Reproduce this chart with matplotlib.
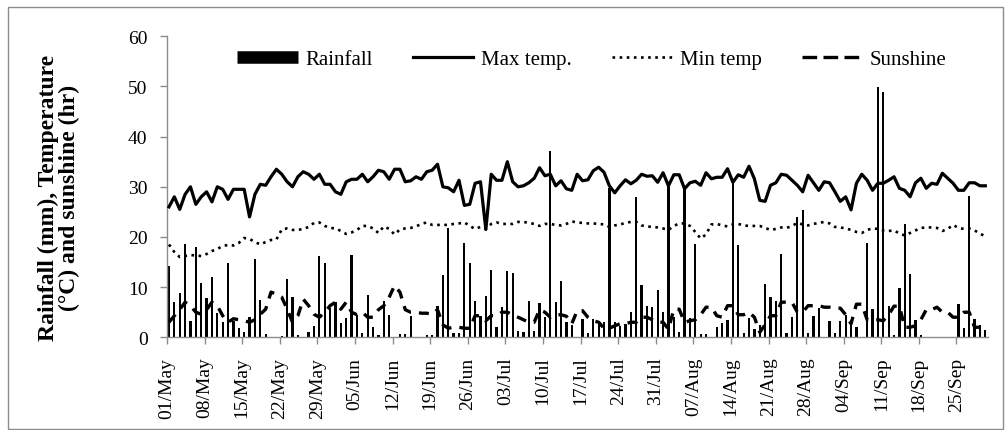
import numpy as np
import matplotlib
matplotlib.use("Agg")
import matplotlib.pyplot as plt
from matplotlib.lines import Line2D
from matplotlib.patches import Rectangle

# ---------------- data (daily, 01 May - 30 Sep) ----------------
max_temp = [26, 28, 25.5, 28.5, 30, 26.5, 28, 29, 27, 30, 29.5, 27.5, 29.5, 29.5, 29.5, 24,
            28.5, 30.5, 30.3, 32, 33.5, 32.5, 31, 30, 32, 33, 32.5, 31.5, 32.5, 30.5, 30.5, 29,
            28.5, 31, 31.5, 31.5, 32.5, 31, 32, 33.3, 33, 31.5, 33.5, 33.5, 31, 31.2, 32, 31.5,
            33, 33.3, 34.5, 30, 29.8, 29, 31.3, 26.3, 26.5, 30.7, 31, 21.5, 32.5, 31.3, 31.3, 35,
            31, 30, 30.2, 30.8, 31.7, 33.8, 32.2, 32.5, 30.2, 31.2, 29.6, 29.3, 32.5, 31.2, 31.4,
            33.2, 33.9, 32.9, 30.2, 28.8, 30.2, 31.4, 30.6, 31.3, 32.5, 32.1, 32.2, 30.9, 32.8,
            30.2, 32.4, 32.4, 29.6, 30.8, 31.1, 30.3, 32.8, 31.6, 31.9, 31.9, 33.6, 30.9, 32.4,
            31.9, 34.1, 31.6, 27.3, 27.1, 30.3, 30.8, 32.5, 32.3, 31.3, 30.3, 29, 32.3, 30.8,
            29.3, 31, 30.8, 29, 27.1, 28, 25.4, 30.7, 32.5, 31.3, 29.3, 30.7, 30.7, 31.3, 32,
            29.7, 29.3, 28, 30.8, 31.7, 29.7, 30.7, 30.5, 32.7, 31.7, 30.7, 29.3, 29.3, 30.8,
            30.8, 30.2, 30.2]

min_temp = [18.5, 17, 16, 16.2, 16.4, 16.3, 16.2, 16.6, 17.2, 17.6, 18.2, 18.4, 18.3, 18.8,
            19.8, 19.6, 19, 18.5, 19, 19.4, 19.5, 21.5, 21.7, 21.4, 21.4, 21.6, 22, 22.8, 22.9,
            22.2, 21.8, 21.7, 21.2, 20.6, 20.9, 21.4, 22.2, 22.2, 21.7, 20.8, 22.1, 21.6, 20.5,
            21.5, 21.7, 21.8, 22.1, 22.6, 22.9, 22.4, 22.4, 22.4, 22.4, 22.6, 22.7, 22.9, 22.2,
            21.6, 22, 21.6, 22.6, 22.9, 22.6, 22.6, 22.6, 23, 23, 22.8, 22.6, 22.2, 22.6, 22.6,
            22.4, 22.3, 22.6, 23.1, 22.9, 22.8, 22.7, 22.7, 22.6, 22.5, 22, 22.3, 22.5, 22.8, 23,
            23, 22.3, 22.1, 22, 21.9, 21.7, 21.4, 22.2, 22.7, 22.7, 22.2, 21, 19.7, 20.5, 22.5,
            22.6, 22.3, 22.1, 22.5, 22.6, 22.3, 22.2, 22.2, 22.2, 21.8, 21.4, 21.6, 21.9, 21.8,
            22.2, 22.8, 22.5, 22.3, 22.6, 22.8, 23, 22.7, 22, 21.9, 21.7, 21.4, 21, 20.8, 21.4,
            21.7, 21.6, 21.3, 21.2, 21.3, 20.7, 20.3, 20.8, 21.3, 21.8, 21.9, 21.9, 21.8, 21.2,
            21.6, 22.4, 21.8, 21.6, 21.7, 21.3, 20.7, 20.1]

rainfall = [14.3, 7.1, 8.9, 18.5, 3.3, 18, 10.9, 7.9, 12.1, 4.8, 3.1, 14.9, 3.2, 1.9, 1, 4.1,
            15.7, 7.4, 0.6, 0, 0, 0.3, 11.6, 8.1, 0.5, 0, 1, 2.3, 16.3, 14.9, 5.9, 7, 2.9, 3.8,
            16.5, 4.4, 0.9, 8.5, 2, 0.5, 7.3, 4.5, 0, 0.7, 0.7, 4.3, 0, 0, 0.5, 0.5, 6.3, 12.4,
            21.7, 0.9, 0.9, 18.8, 14.8, 7.3, 4.3, 8.3, 13.5, 2, 6, 13.3, 12.8, 1.3, 1, 7.2, 1.3,
            6.8, 4, 37.2, 7.1, 11.2, 3, 2.5, 0, 3.7, 0.8, 3.7, 3.3, 3, 29.8, 3, 2.3, 2.7, 5.1, 28,
            10.4, 6.3, 6, 9.5, 5, 30.5, 4, 1, 29.5, 3.8, 18.6, 0.6, 0.6, 0, 2, 2.8, 3.5, 31.5,
            18.3, 0.8, 3.8, 1.7, 2.5, 10.6, 8.1, 7.3, 16.6, 0.8, 4, 23.9, 25.4, 0.8, 4.3, 5.8, 0,
            3.3, 0.8, 3.3, 4.4, 3, 2, 0, 18.8, 5.6, 49.8, 48.8, 6.3, 0.5, 9.8, 22.6, 12.7, 3.5,
            0.5, 0, 0, 0, 0, 0, 0, 6.7, 1.8, 28.2, 3.7, 2.5, 1.5]

sunshine = [3, 4.3, 5.5, 7, 6.3, 5, 4.6, 5.5, 7, 6.3, 4.3, 3, 3.7, 3.5, 3.3, 3, 3.5, 4.6, 5.6,
            9, 8.6, 8, 5.6, 3, 4.3, 7.6, 6.3, 4.6, 4, 5, 6.3, 7, 5.6, 7, 5, 4.5, 5, 4, 4, 5.5,
            6.3, 8, 10.3, 9, 5.5, 5, 5, 4.8, 4.8, 4.6, 5.5, 2.5, 1.8, 2, 2, 1.8, 1.8, 4.3, 4.3,
            3.3, 4.3, 4.3, 5, 5, 4.5, 4, 3.5, 3, 3, 5.5, 5, 4, 4.5, 4.5, 4.2, 2.7, 5.3, 5.3, 4,
            3.3, 3, 1.8, 1.8, 2.3, 2.7, 2.7, 3, 3, 4, 4, 3.5, 3, 3, 1.6, 5.6, 5.6, 3, 3.3, 3.5,
            4.5, 6, 6, 4.3, 4, 6.3, 6.3, 4.5, 4.5, 5, 4, 1, 2.5, 4.3, 4.3, 7, 7, 7, 5, 5, 6.3,
            6.3, 6.3, 6, 6, 5.8, 5.8, 4.5, 2.7, 6.6, 6.6, 3.5, 3.5, 3.5, 3.3, 4.5, 6.2, 6.2, 2,
            2, 2.3, 3.5, 5.5, 5.5, 6, 5, 5, 4, 4, 5, 5, 2, 2, 2]

tick_labels = ['01/May', '08/May', '15/May', '22/May', '29/May', '05/Jun', '12/Jun',
               '19/Jun', '26/Jun', '03/Jul', '10/Jul', '17/Jul', '24/Jul', '31/Jul',
               '07/Aug', '14/Aug', '21/Aug', '28/Aug', '04/Sep', '11/Sep', '18/Sep',
               '25/Sep']
series_labels = ['Rainfall', 'Max temp.', 'Min temp', 'Sunshine']
y_label = 'Rainfall (mm), Temperature\n(\u00b0C) and sunshine (hr)'

# ---------------- figure ----------------
plt.rcParams['font.family'] = ['Liberation Serif', 'DejaVu Serif']
W, H = 1008, 431
fig = plt.figure(figsize=(W / 100, H / 100), dpi=100)
ax = fig.add_axes([167 / W, (H - 338.3) / H, (988 - 167) / W, (338.3 - 37.3) / H])

dotted = (0, (1, 1.7))
days = np.arange(len(max_temp))
ax.bar(days, rainfall, width=0.42, color='black', zorder=1)
ax.plot(days, max_temp, color='black', lw=2.3, zorder=3)
ax.plot(days, min_temp, color='black', lw=1.9, linestyle=dotted, zorder=3)
ax.plot(days, sunshine, color='black', lw=2.4, linestyle=(0, (3.0, 2.4)), zorder=3)

ax.set_xlim(-0.37, 152.5)
ax.set_ylim(0, 60)
ax.set_yticks(np.arange(0, 61, 10))
ax.set_xticks(np.arange(0, len(days), 7)[:len(tick_labels)] - 0.37)
ax.set_xticklabels(tick_labels, rotation=90)

for s in ['top', 'right']:
    ax.spines[s].set_visible(False)
for s in ['left', 'bottom']:
    ax.spines[s].set_color('#8c8c8c')
    ax.spines[s].set_linewidth(1)
ax.tick_params(axis='y', length=5, width=1, color='#8c8c8c', labelsize=14, pad=9)
ax.tick_params(axis='x', length=5, width=1, color='#8c8c8c', labelsize=14, pad=9)

fig.text(59 / W, 1 - 198 / H, y_label, rotation=90, ha='center', va='center',
         multialignment='center', fontsize=17, fontweight='bold', linespacing=1.0)

handles = [Line2D([], [], color='black', lw=9, solid_capstyle='butt'),
           Line2D([], [], color='black', lw=2.3),
           Line2D([], [], color='black', lw=1.9, linestyle=dotted),
           Line2D([], [], color='black', lw=2.4, linestyle=(0, (4.4, 1.9)))]
fig.legend(handles, series_labels, loc='center', bbox_to_anchor=(592 / W, 1 - 60 / H),
           ncol=4, frameon=False, fontsize=15, handlelength=2.9, handletextpad=0.35,
           columnspacing=1.95)

fig.patches.append(Rectangle((8 / W, 1 / H), (1003 - 8) / W, (430 - 8) / H,
                             transform=fig.transFigure, fill=False, ec='#8c8c8c', lw=1))

fig.savefig('out.png', dpi=100)
